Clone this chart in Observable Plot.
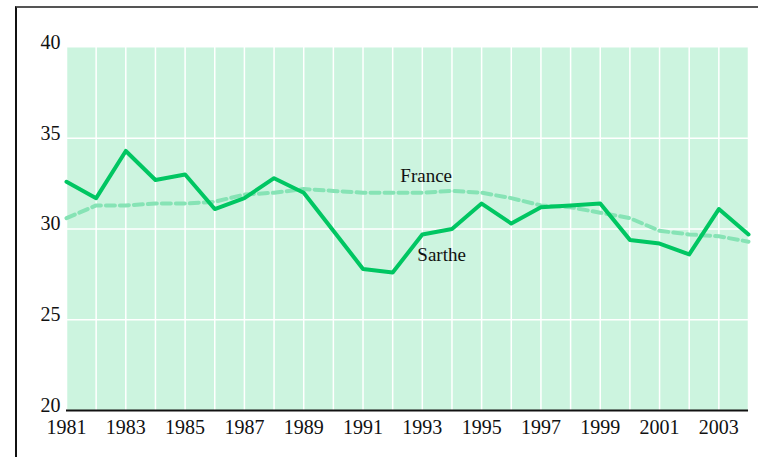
<!DOCTYPE html>
<html><head><meta charset="utf-8">
<script src="https://cdn.jsdelivr.net/npm/d3@7"></script>
<script src="https://cdn.jsdelivr.net/npm/@observablehq/plot@0.6"></script>
<style>
body{margin:0;background:#fff;overflow:hidden}
#wrap{position:relative;width:758px;height:457px}
#box{position:absolute;left:15px;top:6px;width:800px;height:500px;border-left:2px solid #111;border-top:2px solid #555;pointer-events:none}
</style></head><body>
<div id="wrap"><div id="box"></div></div>
<script>
const years = d3.range(1981, 2005);
const sarthe = [32.6,31.7,34.3,32.7,33.0,31.1,31.7,32.8,32.0,29.9,27.8,27.6,29.7,30.0,31.4,30.3,31.2,31.3,31.4,29.4,29.2,28.6,31.1,29.7];
const france = [30.6,31.3,31.3,31.4,31.4,31.5,31.9,32.0,32.2,32.1,32.0,32.0,32.0,32.1,32.0,31.7,31.3,31.2,30.9,30.6,29.9,29.7,29.6,29.3];
const yTicks = [20,25,30,35,40];
const xTicks = d3.range(1981, 2004, 2);
const labels = [{name:"France", year:1993.13, value:32.95}, {name:"Sarthe", year:1993.65, value:28.55}];

const dS = years.map((y,i)=>({year:y, value:sarthe[i]}));
const dF = years.map((y,i)=>({year:y, value:france[i]}));

const chart = Plot.plot({
  width:758, height:457,
  marginLeft:66, marginRight:10, marginTop:47, marginBottom:47,
  style:{fontFamily:"'Liberation Serif', serif", fontSize:"19px", color:"#111", background:"transparent"},
  x:{domain:[1981,2004], ticks:xTicks, tickFormat:d=>String(d), label:null},
  y:{domain:[20,40], ticks:yTicks, label:null},
  marks:[
    Plot.frame({fill:"#ccf4df", stroke:null}),
    Plot.ruleX(years, {stroke:"#fff", strokeWidth:1.5, strokeOpacity:1}),
    Plot.ruleY(yTicks.filter(t=>t>20 && t<40), {stroke:"#fff", strokeWidth:1.5}),
    Plot.line(dF, {x:"year", y:"value", stroke:"#86e3b5", strokeWidth:4, strokeDasharray:"9,5"}),
    Plot.line(dS, {x:"year", y:"value", stroke:"#00c662", strokeWidth:4}),
    Plot.ruleY([20], {stroke:"#111", strokeWidth:2}),
    Plot.text(labels, {x:"year", y:"value", text:"name", fontSize:19, fill:"#111"}),
    Plot.axisX({ticks:xTicks, tickFormat:d=>String(d), tickSize:0, tickPadding:9, fontSize:20, fill:"#111", label:null}),
    Plot.axisY({ticks:yTicks, tickSize:0, tickPadding:6, fontSize:20, fill:"#111", dy:-5, label:null})
  ]
});
document.getElementById("wrap").prepend(chart);
</script>
</body></html>
